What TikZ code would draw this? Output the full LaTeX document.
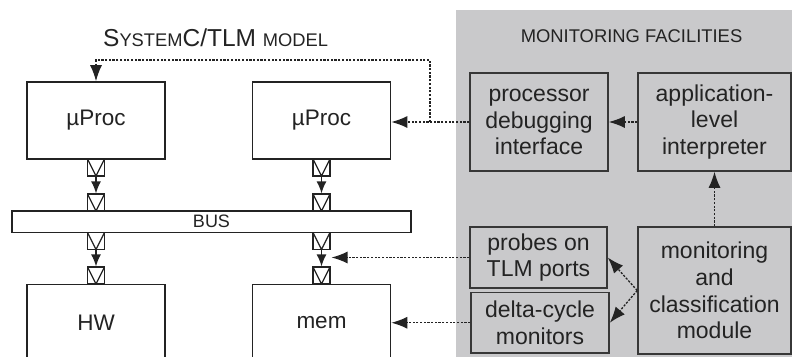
\documentclass[tikz,border=0pt]{standalone}
\usepackage{fontspec}
\setmainfont{Liberation Sans}
\usetikzlibrary{arrows.meta}

\definecolor{panelgray}{RGB}{201,201,203}
\definecolor{inkdark}{RGB}{35,35,35}
\definecolor{boxline}{RGB}{55,55,55}

\tikzset{
  blockbox/.style={draw=inkdark, line width=1.6pt, fill=white, inner sep=0pt,
    minimum width=138pt, minimum height=77pt, text=inkdark,
    font=\fontsize{22.5}{26}\selectfont},
  monbox/.style={draw=boxline, line width=1.6pt, fill=panelgray, inner sep=0pt,
    align=center, text=inkdark, font=\fontsize{23}{26.7}\selectfont},
  port/.style={draw=inkdark, line width=1.2pt, fill=white, inner sep=0pt,
    minimum size=17pt,
    path picture={\draw[inkdark, line width=1.2pt]
      (path picture bounding box.north west) --
      (path picture bounding box.south) --
      (path picture bounding box.north east);}},
  wirearrow/.style={draw=inkdark, line width=1.4pt,
    -{Latex[length=12pt,width=10pt]}},
  dotarrow/.style={draw=inkdark, line width=1.3pt,
    dash pattern=on 2.2pt off 1.5pt,
    -{Latex[length=16pt,width=12pt]}},
}

\begin{document}
\begin{tikzpicture}[x=1pt, y=-1pt]
  \clip (0,0) rectangle (792,356);
  \useasboundingbox (0,0) rectangle (792,356);

  % monitoring side panel
  \fill[panelgray] (456,10) rectangle (800,360);
  \node[anchor=base, text=inkdark, font=\fontsize{18.4}{22}\selectfont]
    (montitle) at (631.5,42) {MONITORING FACILITIES};

  % model title
  \node[anchor=base west, inner sep=0pt, text=inkdark, font=\fontsize{24.5}{28}\selectfont]
    (modeltitle) at (103,46)
    {S{\fontsize{18.3}{20}\selectfont YSTEM}C/TLM {\fontsize{18.3}{20}\selectfont MODEL}};

  % SystemC/TLM model blocks
  \node[blockbox] (procA) at (96,120.5) {µProc};
  \node[blockbox] (procB) at (321.5,120.5) {µProc};
  \node[blockbox] (hw)    at (96,323) {HW};
  \node[blockbox] (mem)   at (321.5,323) {mem};
  \node[draw=inkdark, line width=1.6pt, fill=white, inner sep=0pt,
        minimum width=399pt, minimum height=21.5pt, text=inkdark,
        font=\fontsize{18}{20}\selectfont] (bus) at (211.5,221.75) {BUS};

  % TLM ports
  \node[port] (pA1) at (96,167.5) {};
  \node[port] (pA2) at (96,202.5) {};
  \node[port] (pA3) at (96,241) {};
  \node[port] (pA4) at (96,275.5) {};
  \node[port] (pB1) at (321.5,167.5) {};
  \node[port] (pB2) at (321.5,202.5) {};
  \node[port] (pB3) at (321.5,241) {};
  \node[port] (pB4) at (321.5,275.5) {};

  \draw[wirearrow] (pA1) -- (pA2);
  \draw[wirearrow] (pA3) -- (pA4);
  \draw[wirearrow] (pB1) -- (pB2);
  \draw[wirearrow] (pB3) -- (pB4);

  % monitoring facilities
  \node[monbox, minimum width=138pt, minimum height=98pt] (pdi) at (539,122)
    {processor\\debugging\\interface};
  \node[monbox, minimum width=153pt, minimum height=98pt] (ali) at (714.5,122)
    {application-\\level\\interpreter};
  \node[monbox, minimum width=137pt, minimum height=61pt] (probes) at (538.5,257.5)
    {probes on\\TLM ports};
  \node[monbox, minimum width=138pt, minimum height=60.5pt] (delta) at (540,322.75)
    {delta-cycle\\monitors};
  \node[monbox, minimum width=153pt, minimum height=127pt] (mcm) at (714.5,290.5)
    {monitoring\\and\\classification\\module};

  % monitoring connections
  \coordinate (split) at (430,122);
  \coordinate (tap) at (331.5,257.5);
  \draw[dotarrow] (pdi.west) -- (pdi.west -| procB.east);
  \draw[dotarrow] (split) -- (430,60) -| (procA.north);
  \draw[dotarrow] (ali.west) -- (pdi.east);
  \draw[dotarrow] (mcm.north) -- (ali.south);
  \draw[dotarrow] (mcm.west) -- (probes.east);
  \draw[dotarrow] (mcm.west) -- (delta.east);
  \draw[dotarrow] (probes.west) -- (tap);
  \draw[dotarrow] (delta.west) -- (delta.west -| mem.east);
\end{tikzpicture}
\end{document}
